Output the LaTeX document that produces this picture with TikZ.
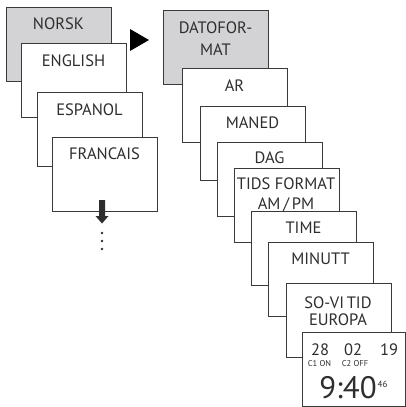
\documentclass[tikz,border=0pt]{standalone}
\usepackage{fontspec}
\setmainfont{PT Sans}
\definecolor{edge}{HTML}{3A3A3A}
\definecolor{shade}{HTML}{D3D3D5}
\definecolor{ink}{HTML}{2E2E2E}
\begin{document}
\begin{tikzpicture}[x=1pt,y=-1pt,
  menubox/.style={draw=edge,line width=0.9pt,fill=white,minimum width=105pt,minimum height=74pt,anchor=north west,inner sep=0pt},
  graybox/.style={menubox,fill=shade},
  txt/.style={anchor=base,inner sep=0pt,text=ink,font=\fontsize{16.5}{18}\selectfont},
  big/.style={anchor=base,inner sep=0pt,text=ink,font=\fontsize{31}{33}\selectfont},
  tiny/.style={anchor=base,inner sep=0pt,text=ink,font=\fontsize{8.5}{10}\selectfont}]
\useasboundingbox (0,0) rectangle (406,407);
% left column
\node[graybox] (nor) at (6,7) {};
\node[txt] (norT) at (58.5,29) {NORSK};
\node[menubox] (eng) at (21,43) {};
\node[txt] (engT) at (73.5,66) {ENGLISH};
\node[menubox] (esp) at (37,92) {};
\node[txt] (espT) at (89.5,115) {ESPANOL};
\node[menubox] (fra) at (52,137) {};
\node[txt] (fraT) at (104.5,159) {FRANCAIS};
% down arrow
\fill[ink] (99,200) -- (105,200) -- (105,216) -- (108.5,216) -- (102,223.5) -- (95.5,216) -- (99,216) -- cycle;
\fill[ink] (102,233) circle (1.3) (102,241) circle (1.3) (102,249) circle (1.3);
% right triangle
\fill[black] (130,29) -- (149,40) -- (130,51) -- cycle;
% right column
\node[graybox] (dat) at (163,10) {};
\node[txt] (datT1) at (215.5,33) {DATOFOR-};
\node[txt] (datT2) at (215.5,55) {MAT};
\node[menubox] (ar) at (182,68) {};
\node[txt] (arT) at (234.5,91) {AR};
\node[menubox] (man) at (200,106) {};
\node[txt] (manT) at (252.5,128) {MANED};
\node[menubox] (dag) at (217,142) {};
\node[txt] (dagT) at (269.5,163) {DAG};
\node[menubox] (tid) at (233.5,168) {};
\node[txt] (tidT1) at (286,189) {TIDS FORMAT};
\node[txt] (tidT2) at (286,209) {AM\,/\,PM};
\node[menubox] (tim) at (251,211) {};
\node[txt] (timT) at (303.5,233) {TIME};
\node[menubox] (min) at (268,242) {};
\node[txt] (minT) at (320.5,264) {MINUTT};
\node[menubox] (sov) at (285.5,283) {};
\node[txt] (sovT1) at (338,308) {SO-VI\,TID};
\node[txt] (sovT2) at (338,325) {EUROPA};
\node[menubox,minimum width=103pt] (dsp) at (302,332) {};
\node[txt] (d28) at (320,355) {28};
\node[txt] (d02) at (353,355) {02};
\node[txt] (d19) at (389,355) {19};
\node[tiny] (c1) at (319.5,366) {C1 ON};
\node[tiny] (c2) at (355,366) {C2 OFF};
\node[big] (clk) at (348,398) {9:40};
\node[tiny,font=\fontsize{9}{10}\selectfont] (sec) at (382.5,387) {46};
\end{tikzpicture}
\end{document}
